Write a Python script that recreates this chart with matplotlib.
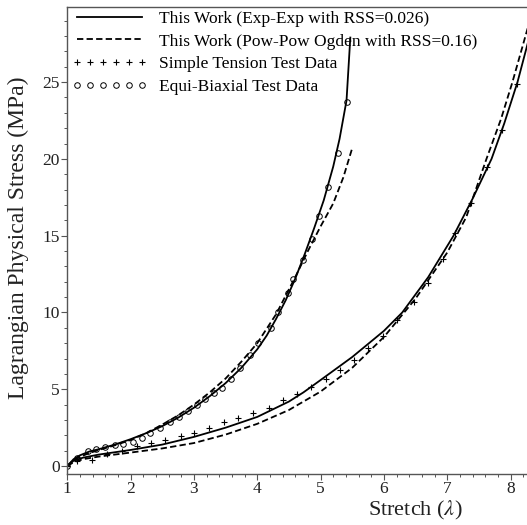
import matplotlib.pyplot as plt

plt.rcParams['font.family'] = ['Liberation Serif', 'DejaVu Serif']
plt.rcParams['mathtext.fontset'] = 'stix'

# Equi-biaxial test data
eb_x = [1.0, 1.15, 1.33, 1.45, 1.6, 1.76, 1.88, 2.04, 2.18, 2.31, 2.47, 2.62, 2.76, 2.9,
        3.05, 3.18, 3.31, 3.45, 3.59, 3.73, 3.88, 4.02, 4.21, 4.33, 4.49, 4.57, 4.73,
        4.87, 4.98, 5.12, 5.27, 5.41]
eb_y = [0.0, 0.5, 1.0, 1.1, 1.25, 1.4, 1.45, 1.55, 1.85, 2.15, 2.5, 2.9, 3.2, 3.6,
        4.0, 4.4, 4.75, 5.1, 5.7, 6.4, 7.2, 8.0, 9.0, 10.0, 11.3, 12.2, 13.4,
        14.8, 16.3, 18.2, 20.4, 23.7]

# Simple tension test data
st_x = [1.0, 1.15, 1.39, 1.63, 1.87, 2.1, 2.32, 2.55, 2.79, 3.0, 3.24, 3.48, 3.7, 3.94,
        4.18, 4.41, 4.63, 4.85, 5.09, 5.31, 5.53, 5.75, 5.99, 6.21, 6.47, 6.7, 6.94,
        7.13, 7.37, 7.63, 7.87, 8.1]
st_y = [0.0, 0.35, 0.4, 0.8, 1.0, 1.3, 1.5, 1.7, 1.95, 2.15, 2.5, 2.9, 3.1, 3.45,
        3.8, 4.3, 4.7, 5.15, 5.7, 6.25, 6.9, 7.7, 8.5, 9.5, 10.7, 11.9, 13.5,
        15.2, 17.1, 19.5, 21.9, 24.9]

# Exp-Exp model (solid)
eb_exp_x = [1.0, 1.1, 1.2, 1.35, 1.5, 1.75, 2.0, 2.25, 2.5, 2.75, 3.0, 3.25, 3.5, 3.75,
            4.0, 4.15, 4.3, 4.45, 4.6, 4.75, 4.9, 5.05, 5.2, 5.3, 5.41, 5.47]
eb_exp_y = [0.0, 0.45, 0.7, 0.95, 1.1, 1.4, 1.75, 2.15, 2.6, 3.15, 3.8, 4.55, 5.4, 6.4,
            7.6, 8.5, 9.6, 10.8, 12.2, 13.8, 15.5, 17.3, 19.5, 21.3, 23.8, 27.9]
st_exp_x = [1.0, 1.1, 1.25, 1.5, 1.75, 2.0, 2.5, 3.0, 3.5, 4.0, 4.5, 4.73, 5.0, 5.5,
            6.0, 6.29, 6.7, 7.1, 7.4, 7.7, 7.9, 8.11, 8.27]
st_exp_y = [0.0, 0.35, 0.55, 0.75, 0.9, 1.05, 1.4, 1.9, 2.5, 3.2, 4.2, 4.8, 5.6, 7.1,
            8.8, 10.0, 12.3, 15.0, 17.4, 20.0, 22.3, 25.0, 27.5]

# Pow-Pow Ogden model (dashed)
eb_pow_x = [1.0, 1.1, 1.2, 1.35, 1.5, 1.75, 2.0, 2.25, 2.5, 2.75, 3.0, 3.25, 3.5, 3.75,
            4.0, 4.3, 4.6, 4.8, 5.0, 5.2, 5.36, 5.5]
eb_pow_y = [0.0, 0.4, 0.6, 0.85, 1.05, 1.35, 1.7, 2.15, 2.7, 3.3, 4.0, 4.8, 5.7, 6.8,
            8.0, 9.9, 12.3, 14.0, 15.6, 17.1, 18.8, 20.7]
st_pow_x = [1.0, 1.1, 1.25, 1.5, 1.75, 2.0, 2.5, 3.0, 3.5, 4.0, 4.5, 5.0, 5.5, 6.0,
            6.5, 7.0, 7.3, 7.62, 7.85, 8.03, 8.27]
st_pow_y = [0.0, 0.25, 0.45, 0.62, 0.75, 0.88, 1.15, 1.5, 2.05, 2.75, 3.65, 4.85, 6.4, 8.4,
            10.9, 13.9, 16.2, 20.0, 22.6, 25.0, 28.5]

fig = plt.figure(figsize=(5.27, 5.25), dpi=100)
ax = fig.add_axes([0.127, 0.097, 0.873, 0.89])

dash = (0, (3.5, 1.8))
ax.plot(eb_exp_x, eb_exp_y, color='black', lw=1.3, label='This Work (Exp-Exp with RSS=0.026)')
ax.plot(eb_pow_x, eb_pow_y, color='black', lw=1.3, ls=dash,
        label='This Work (Pow-Pow Ogden with RSS=0.16)')
ax.plot(st_x, st_y, ls='none', marker='+', ms=5, mew=0.8, color='black',
        label='Simple Tension Test Data')
ax.plot(eb_x, eb_y, ls='none', marker='o', ms=4, mew=0.7, mfc='none', color='black',
        label='Equi-Biaxial Test Data')
ax.plot(st_exp_x, st_exp_y, color='black', lw=1.3)
ax.plot(st_pow_x, st_pow_y, color='black', lw=1.3, ls=dash)

ax.set_xlim(0.995, 8.26)
ax.set_ylim(-0.52, 29.9)
ax.set_xticks(range(1, 9))
ax.set_yticks(range(0, 30, 5))
ax.set_xticks([1 + 0.2 * i for i in range(37)], minor=True)
ax.set_yticks(range(0, 30), minor=True)
ax.tick_params(which='major', length=4, width=0.8, color='#555555', labelsize=12.5,
               labelcolor='#222222', pad=1)
ax.tick_params(which='minor', length=2, width=0.7, color='#555555')
for s in ['left', 'bottom', 'top']:
    ax.spines[s].set_color('#555555')
    ax.spines[s].set_linewidth(1.0)
ax.spines['right'].set_visible(False)

ax.set_xlabel(r'Stretch ($\lambda$)', fontsize=16, color='#222222')
ax.xaxis.set_label_coords(0.757, -0.054)
ax.set_ylabel('Lagrangian Physical Stress (MPa)', fontsize=17, color='#222222')
ax.yaxis.set_label_coords(-0.083, 0.505)

leg = ax.legend(loc='upper left', bbox_to_anchor=(0.003, 1.0), frameon=False, fontsize=12.5,
                numpoints=6, handlelength=4.3, handletextpad=0.7, labelspacing=0.38,
                borderaxespad=0.0, borderpad=0.22)

fig.savefig('out.png', dpi=100)
